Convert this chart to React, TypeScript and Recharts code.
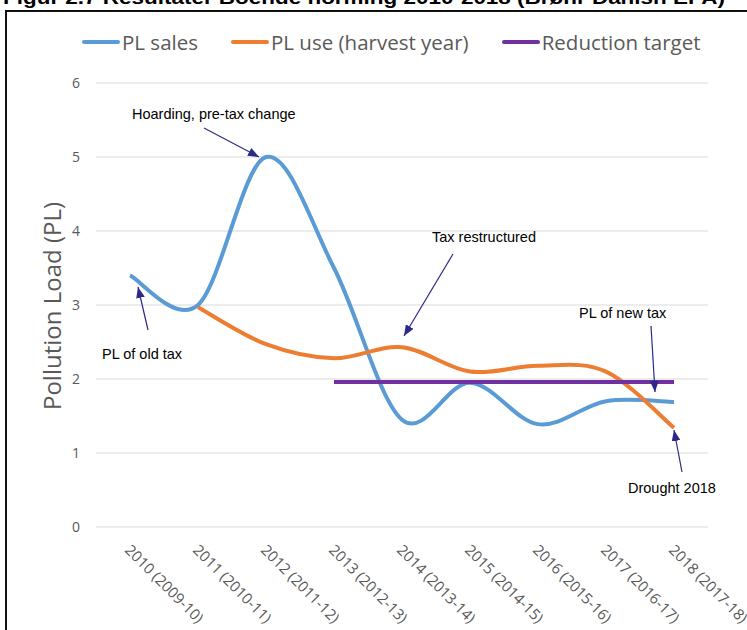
import React from 'react';
import { ComposedChart, Line, XAxis, YAxis, CartesianGrid, Legend } from 'recharts';

const categories = [
  '2010 (2009-10)',
  '2011 (2010-11)',
  '2012 (2011-12)',
  '2013 (2012-13)',
  '2014 (2013-14)',
  '2015 (2014-15)',
  '2016 (2015-16)',
  '2017 (2016-17)',
  '2018 (2017-18)',
];
const plSales = [3.4, 3.0, 5.0, 3.5, 1.45, 1.95, 1.39, 1.7, 1.69];
const plUse = [null, 2.97, 2.47, 2.28, 2.43, 2.1, 2.18, 2.1, 1.34];
const reductionTarget = [null, null, null, 1.96, 1.96, 1.96, 1.96, 1.96, 1.96];
const yTicks = [0, 1, 2, 3, 4, 5, 6];
const seriesNames = ['PL sales', 'PL use (harvest year)', 'Reduction target'];
const seriesColors = ['#5B9BD5', '#ED7D31', '#7030A0'];

const titleText = 'Figur 2.7  Resultater Boende norming 2010-2018 (Brønr Danish EPA)';
const yLabel = 'Pollution Load (PL)';

const data = categories.map((c, i) => ({
  cat: c,
  sales: plSales[i],
  use: plUse[i],
  target: reductionTarget[i],
}));

// Excel-like smoothing (uniform Catmull-Rom via cubic Bezier)
const excelCurve = (context: any) => {
  let pts: number[][] = [];
  return {
    areaStart() {},
    areaEnd() {},
    lineStart() {
      pts = [];
    },
    point(x: number, y: number) {
      pts.push([+x, +y]);
    },
    lineEnd() {
      const n = pts.length;
      if (!n) return;
      context.moveTo(pts[0][0], pts[0][1]);
      if (n === 1) return;
      for (let i = 0; i < n - 1; i++) {
        const p0 = pts[i - 1] || pts[i];
        const p1 = pts[i];
        const p2 = pts[i + 1];
        const p3 = pts[i + 2] || pts[i + 1];
        const c1x = p1[0] + (p2[0] - p0[0]) / 6;
        const c1y = p1[1] + (p2[1] - p0[1]) / 6;
        const c2x = p2[0] - (p3[0] - p1[0]) / 6;
        const c2y = p2[1] - (p3[1] - p1[1]) / 6;
        context.bezierCurveTo(c1x, c1y, c2x, c2y, p2[0], p2[1]);
      }
    },
  };
};

const XTick = (props: any) => {
  const { x, y, payload } = props;
  return (
    <g transform={`translate(${x - 6},${y + 16})`}>
      <text
        transform="rotate(45)"
        textAnchor="start"
        fontFamily="'Open Sans', sans-serif"
        fontSize={15}
        fill="#595959"
      >
        {payload.value}
      </text>
    </g>
  );
};

const LegendContent = () => (
  <div
    style={{
      display: 'flex',
      alignItems: 'center',
      height: 30,
      paddingLeft: 82,
      fontFamily: "'Open Sans', sans-serif",
      fontSize: 20.5,
      color: '#595959',
      whiteSpace: 'nowrap',
    }}
  >
    {seriesNames.map((n, i) => (
      <div key={n} style={{ display: 'flex', alignItems: 'center', marginRight: 33 }}>
        <div style={{ width: 38, height: 4, background: seriesColors[i], borderRadius: 2, marginRight: 2 }} />
        <span>{n}</span>
      </div>
    ))}
  </div>
);

const ARROW = '#2B2A88';
const annotations = [
  { text: 'Hoarding, pre-tax change', tx: 132, ty: 119, x1: 204, y1: 128, x2: 259, y2: 157 },
  { text: 'PL of old tax', tx: 102, ty: 359, x1: 148, y1: 330, x2: 138, y2: 287 },
  { text: 'Tax restructured', tx: 432, ty: 242, x1: 453, y1: 254, x2: 404, y2: 336 },
  { text: 'PL of new tax', tx: 579, ty: 318, x1: 651, y1: 326, x2: 655, y2: 392 },
  { text: 'Drought 2018', tx: 628, ty: 493, x1: 682, y1: 472, x2: 674, y2: 430 },
];

export default function App() {
  return (
    <div style={{ position: 'absolute', left: 0, top: 0, width: 747, height: 630, overflow: 'hidden', background: '#fff' }}>
      <div
        style={{
          position: 'absolute',
          left: 5,
          top: 10,
          width: 900,
          height: 900,
          border: '2px solid #111',
          boxSizing: 'border-box',
        }}
      />
      <div style={{ position: 'absolute', left: 0, top: 0 }}>
        <ComposedChart
          width={747}
          height={630}
          data={data}
          margin={{ top: 53, right: 39, bottom: 0, left: 36 }}
        >
          <CartesianGrid horizontal vertical={false} stroke="#d9d9d9" strokeWidth={1} />
          <XAxis
            dataKey="cat"
            axisLine={false}
            tickLine={false}
            interval={0}
            height={103}
            padding={{ left: 34, right: 34 }}
            tick={<XTick />}
          />
          <YAxis
            domain={[0, 6]}
            ticks={yTicks}
            axisLine={false}
            tickLine={false}
            width={60}
            tickMargin={10}
            tick={{ fontFamily: "'Open Sans', sans-serif", fontSize: 14, fill: '#595959' }}
          />
          <Legend verticalAlign="top" wrapperStyle={{ top: 27, left: 0 }} content={<LegendContent />} />
          <Line
            dataKey="sales"
            name={seriesNames[0]}
            stroke={seriesColors[0]}
            strokeWidth={4}
            type={excelCurve as any}
            dot={false}
            activeDot={false}
            isAnimationActive={false}
          />
          <Line
            dataKey="use"
            name={seriesNames[1]}
            stroke={seriesColors[1]}
            strokeWidth={4}
            type={excelCurve as any}
            dot={false}
            activeDot={false}
            isAnimationActive={false}
          />
          <Line
            dataKey="target"
            name={seriesNames[2]}
            stroke={seriesColors[2]}
            strokeWidth={4}
            type={excelCurve as any}
            dot={false}
            activeDot={false}
            isAnimationActive={false}
          />
        </ComposedChart>
      </div>
      <svg
        width={747}
        height={630}
        style={{ position: 'absolute', left: 0, top: 0, pointerEvents: 'none' }}
      >
        <defs>
          <marker
            id="arrowHead"
            viewBox="0 0 10 8"
            refX={10}
            refY={4}
            markerWidth={11}
            markerHeight={9}
            markerUnits="userSpaceOnUse"
            orient="auto"
          >
            <path d="M0,0 L10,4 L0,8 z" fill={ARROW} />
          </marker>
        </defs>
        <text
          x={3}
          y={4}
          fontFamily="'Liberation Sans', Arial, sans-serif"
          fontWeight="bold"
          fontSize={18}
          fill="#000"
          textLength={722}
          lengthAdjust="spacingAndGlyphs"
        >
          {titleText}
        </text>
        <text
          transform="translate(61,306) rotate(-90)"
          textAnchor="middle"
          fontFamily="'Open Sans', sans-serif"
          fontSize={24}
          fill="#595959"
        >
          {yLabel}
        </text>
        {annotations.map((a) => (
          <g key={a.text}>
            <line x1={a.x1} y1={a.y1} x2={a.x2} y2={a.y2} stroke={ARROW} strokeWidth={1.2} markerEnd="url(#arrowHead)" />
            <text x={a.tx} y={a.ty} fontFamily="'Liberation Sans', Arial, sans-serif" fontSize={14.5} fill="#000">
              {a.text}
            </text>
          </g>
        ))}
      </svg>
    </div>
  );
}
